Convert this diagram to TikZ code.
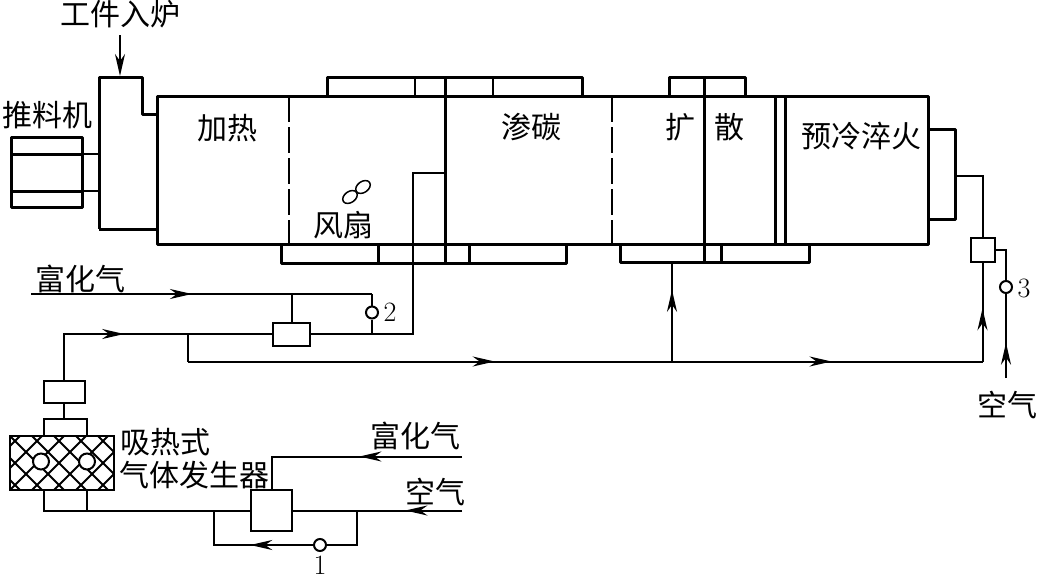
\documentclass[tikz,border=0pt]{standalone}
\usepackage{fontspec}
\newfontfamily\cjk{Noto Sans CJK SC}
\usetikzlibrary{arrows.meta,decorations.markings}
\tikzset{
  wall/.style={line width=3pt,line join=round},
  pipe/.style={line width=2pt},
  partition/.style={line width=1.5pt,dash pattern=on 26pt off 5pt},
  box/.style={draw,line width=2pt,inner sep=0pt},
  valve/.style={draw,circle,line width=2pt,fill=white,inner sep=0pt,minimum size=12pt},
  lbl/.style={font=\cjk\fontsize{30}{30}\selectfont,inner sep=0pt},
  num/.style={font=\fontsize{28}{28}\selectfont,inner sep=0pt},
  arrowat/.style={postaction={decorate,decoration={markings,
    mark=at position #1 with {\arrow{Stealth[length=22pt,width=10pt,inset=7pt]}}}}}
}
\begin{document}
\begin{tikzpicture}[x=1pt,y=-1pt]
\useasboundingbox (0,0) rectangle (1037,581);
% furnace body
\draw[wall] (157,96) rectangle (928,244);
\draw[wall] (99,229) -- (157,229);
\draw[wall] (157,114) -- (142,114) -- (142,77) -- (99,77) -- (99,229);
\draw[wall] (928,129) -- (955,129) -- (955,219) -- (928,219);
% pusher
\draw[wall] (11,137) rectangle (82,207);
\draw[wall] (11,154) -- (82,154);
\draw[wall] (11,191) -- (82,191);
\draw[pipe] (82,154) -- (99,154);
\draw[pipe] (82,191) -- (99,191);
% fan ducts on top and below
\draw[wall] (327,96) |- (582,77) -- (582,96);
\draw[wall] (669,96) |- (745,77) -- (745,96);
\draw[wall] (281,244) |- (566,263) -- (566,244);
\draw[wall] (620,244) |- (809,262) -- (809,244);
\foreach \x in {415,493} \draw[pipe] (\x,77) -- (\x,96);
\foreach \x in {378,469} \draw[wall] (\x,244) -- (\x,263);
\draw[wall] (721,244) -- (721,262);
% zone walls
\draw[wall] (445,77) -- (445,263);
\draw[wall] (704,77) -- (704,262);
\draw[wall] (775,96) -- (775,244);
\draw[wall] (785,96) -- (785,244);
\draw[partition] (289,96) -- (289,244);
\draw[partition] (612,96) -- (612,244);
% fan
\draw[line width=1.5pt,rotate around={35:(350,197)}] (350,197) ellipse (8pt and 5.5pt);
\draw[line width=1.5pt,rotate around={35:(363,187)}] (363,187) ellipse (8pt and 5.5pt);
% generator
\begin{scope}
  \clip (10,436) rectangle (114,490);
  \foreach \i in {-56,-34,...,120} {
    \draw[line width=1.8pt] (\i,436) -- ++(54,54);
    \draw[line width=1.8pt] (\i,490) -- ++(54,-54);
  }
\end{scope}
\draw[line width=2.5pt] (10,436) rectangle (114,490);
\draw[box,fill=white] (41,461.5) circle (8pt);
\draw[box,fill=white] (87,461.5) circle (8pt);
\draw[pipe] (44,436) |- (87,419) -- (87,436);
% pipe fittings
\node[box,minimum width=37pt,minimum height=23pt] (mixer) at (291.5,334) {};
\node[box,minimum width=41pt,minimum height=22pt] (cooler) at (64,392) {};
\node[box,minimum width=41pt,minimum height=41pt] (heater) at (271.5,510.5) {};
\node[box,minimum width=24pt,minimum height=24pt] (quench) at (982.5,250) {};
\node[valve] (valveone) at (320,545) {};
\node[valve] (valvetwo) at (372,312.5) {};
\node[valve] (valvethree) at (1006,287) {};
\coordinate (richin) at (31,294);
\coordinate (richtee) at (mixer.north |- richin);
\coordinate (richend) at (372,294);
\coordinate (richjoin) at (372,334);
\coordinate (ducttop) at (413,173);
\coordinate (ductend) at (445,173);
\coordinate (bleed) at (188,334);
\coordinate (mainturn) at (188,361.5);
\coordinate (maintee) at (672,361.5);
\coordinate (mainend) at (982.5,361.5);
\coordinate (zonefeed) at (672,262);
\coordinate (capout) at (955,176);
\coordinate (airin) at (1006,378);
\coordinate (gencap) at (64,419);
\coordinate (genl) at (44,490);
\coordinate (genr) at (87,490);
\coordinate (genrdown) at (87,510.5);
\coordinate (richlow) at (462,456.5);
\coordinate (airlow) at (462,510.5);
\coordinate (bypassr) at (357,510.5);
\coordinate (bypassl) at (214,510.5);
\coordinate (chuteabove) at (120,35);
\coordinate (chute) at (120,76);
% piping
\draw[pipe,arrowat=0.472] (richin) -- (richend);
\draw[pipe] (richtee) -- (mixer.north);
\draw[pipe] (richend) -- (valvetwo) -- (richjoin);
\draw[pipe,arrowat=0.418] (cooler.north) |- (mixer.west);
\draw[pipe] (mixer.east) -| (ducttop) -- (ductend);
\draw[pipe] (bleed) -- (mainturn);
\draw[pipe,arrowat=0.386,arrowat=0.81] (mainturn) -- (mainend);
\draw[pipe,arrowat=0.72] (maintee) -- (zonefeed);
\draw[pipe,arrowat=0.54] (mainend) -- (quench.south);
\draw[pipe] (quench.north) |- (capout);
\draw[pipe,arrowat=0.42] (airin) -- (valvethree);
\draw[pipe] (valvethree) |- (quench.east);
\draw[pipe] (cooler.south) -- (gencap);
\draw[pipe] (genl) |- (heater.west);
\draw[pipe] (genr) -- (genrdown);
\draw[pipe,arrowat=0.46] (richlow) -| (heater.north);
\draw[pipe,arrowat=0.335] (airlow) -- (heater.east);
\draw[pipe] (bypassr) |- (valveone);
\draw[pipe,arrowat=0.47] (valveone) -| (bypassl);
\draw[pipe,-{Stealth[length=22pt,width=10pt,inset=7pt]}] (chuteabove) -- (chute);
% labels
\node[lbl] (charge) at (120,14) {工件入炉};
\node[lbl] (pusher) at (47,115) {推料机};
\node[lbl] (heating) at (227,128) {加热};
\node[lbl] (carb) at (531,127) {渗碳};
\node[lbl] (diffa) at (680,127) {扩};
\node[lbl] (diffb) at (729,127) {散};
\node[lbl] (quenching) at (861,136) {预冷淬火};
\node[lbl] (fan) at (343,225) {风扇};
\node[lbl] (richa) at (80,279) {富化气};
\node[lbl] (richb) at (415,436) {富化气};
\node[lbl] (aira) at (1007,405) {空气};
\node[lbl] (airb) at (435,492) {空气};
\node[lbl] (gena) at (165,442) {吸热式};
\node[lbl] (genb) at (194,475) {气体发生器};
\node[num] (numone) at (320,565) {1};
\node[num] (numtwo) at (390,312) {2};
\node[num] (numthree) at (1024,288) {3};
\end{tikzpicture}
\end{document}
